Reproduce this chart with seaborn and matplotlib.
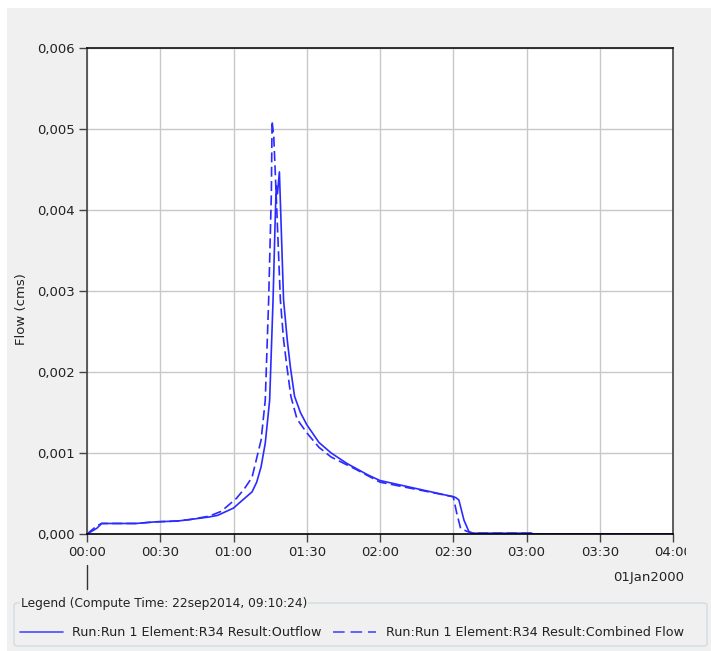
import matplotlib
matplotlib.use("Agg")
import matplotlib.pyplot as plt
import seaborn as sns
import pandas as pd
from matplotlib.patches import FancyBboxPatch, Rectangle
from matplotlib.lines import Line2D
from matplotlib.transforms import Bbox

# ---- data (minutes after 00:00, flow in cms) ----
outflow_t = [0, 4, 6, 20, 28, 37, 42.5, 50, 53.5, 60, 63, 67.6, 69.5, 71.3, 73.0, 74.8, 76.2,
             77.0, 77.5, 78.0, 78.8, 80.5, 82.0, 83.3, 85.0, 87.4, 90, 95, 100, 106.5, 115,
             120, 135, 150, 151, 152.3, 154.4, 156.4, 158, 182, 183, 240]
outflow_q = [0, 0.00007, 0.00013, 0.00013, 0.00015, 0.00016, 0.00018, 0.00021, 0.00023, 0.00032,
             0.0004, 0.00052, 0.00064, 0.00083, 0.00112, 0.00165, 0.00289, 0.0038, 0.0043,
             0.0042, 0.00447, 0.00289, 0.0024, 0.00206, 0.0017, 0.0015, 0.00135, 0.00113,
             0.001, 0.00087, 0.00073, 0.00066, 0.00056, 0.00046, 0.00045, 0.00042, 0.00017,
             0.00003, 0.00001, 0.00001, 0, 0]

combined_t = [0, 4, 6, 20, 28, 37, 42.5, 50, 55, 61.2, 64.5, 67.6, 71.3, 73.0, 74.4, 75.5, 75.8,
              76.5, 77.6, 79.2, 80.5, 81.9, 83.5, 86.0, 90, 95, 100, 110, 120, 135, 150, 150.3,
              151.4, 153, 155.8, 158, 182, 183, 240]
combined_q = [0, 0.0001, 0.00013, 0.00013, 0.00015, 0.00016, 0.00018, 0.00022, 0.00028, 0.00044,
              0.00056, 0.0007, 0.00116, 0.00165, 0.00289, 0.0042, 0.0051, 0.0049, 0.0041,
              0.00289, 0.0024, 0.00206, 0.0017, 0.00142, 0.00125, 0.00107, 0.00095, 0.0008,
              0.00064, 0.00055, 0.00046, 0.00042, 0.00026, 0.00007, 0.00003, 0.00001, 0.00001,
              0, 0]

x_ticks = [0, 30, 60, 90, 120, 150, 180, 210, 240]
x_labels = ["00:00", "00:30", "01:00", "01:30", "02:00", "02:30", "03:00", "03:30", "04:00"]
y_ticks = [0, 0.001, 0.002, 0.003, 0.004, 0.005, 0.006]
y_labels = ["0,000", "0,001", "0,002", "0,003", "0,004", "0,005", "0,006"]

series_names = ["Run:Run 1 Element:R34 Result:Outflow",
                "Run:Run 1 Element:R34 Result:Combined Flow"]

df_out = pd.DataFrame({"t": outflow_t, "q": outflow_q})
df_comb = pd.DataFrame({"t": combined_t, "q": combined_q})

sns.set_theme(style="white")
plt.rcParams["font.family"] = ["DejaVu Sans"]

W, H = 711, 651
fig = plt.figure(figsize=(W / 100, H / 100), dpi=100)
fig.patch.set_facecolor("white")
fig.patches.append(Rectangle((7 / W, 0), 1, 1 - 8 / H, transform=fig.transFigure,
                             facecolor="#f0f0f0", edgecolor="none", zorder=-10))

ax = fig.add_axes([87 / W, 1 - 534 / H, (673 - 87) / W, (534 - 48) / H])
ax.set_facecolor("white")

blue = "#2b2bff"
dash = (0, (6, 2.6))
sns.lineplot(data=df_out, x="t", y="q", ax=ax, color=blue, linewidth=1.2,
             estimator=None, sort=False)
sns.lineplot(data=df_comb, x="t", y="q", ax=ax, color=blue, linewidth=1.2,
             linestyle=dash, estimator=None, sort=False)

ax.set_xlim(0, 240)
ax.set_ylim(0, 0.006)
ax.set_xticks(x_ticks)
ax.set_xticklabels(x_labels)
ax.set_yticks(y_ticks)
ax.set_yticklabels(y_labels)
ax.grid(True, color="#c8c8c8", linewidth=1)
ax.set_axisbelow(True)
for s in ax.spines.values():
    s.set_color("#444444")
    s.set_linewidth(1.2)
ax.spines["bottom"].set_color("#000000")
ax.spines["top"].set_color("#111111")
ax.tick_params(axis="both", direction="out", length=6, width=1, color="#444444",
               labelsize=9.5, labelcolor="#222222", pad=3, bottom=True, left=True)
ax.set_xlabel("")
ax.set_ylabel("")
fig.text(22 / W, 1 - 309 / H, "Flow (cms)", rotation=90, ha="center", va="center",
         fontsize=9.5, color="#222222")

# clip last x tick label like the reference
fig.canvas.draw()
clipbox = Bbox([[0, 0], [686, H]])
for lab in ax.get_xticklabels():
    lab.set_clip_on(True)
    lab.set_clip_box(clipbox)

# date label and marker
fig.text(684 / W, 1 - 577 / H, "01Jan2000", ha="right", va="center", fontsize=9.5, color="#222222")
fig.add_artist(Line2D([87 / W, 87 / W], [1 - 565 / H, 1 - 589 / H], color="#333333", linewidth=1))

# legend box
fig.patches.append(FancyBboxPatch((14 / W, 1 - 646 / H), (707 - 14) / W, (646 - 603) / H,
                                  boxstyle="round,pad=0,rounding_size=0.004",
                                  transform=fig.transFigure, facecolor="#f0f0f0",
                                  edgecolor="#d0dce0", linewidth=1))
fig.text(21 / W, 1 - 603 / H, "Legend (Compute Time: 22sep2014, 09:10:24)", ha="left", va="center",
         fontsize=8.8, color="#222222",
         bbox=dict(facecolor="#f0f0f0", edgecolor="none", pad=0.5))
ly = 1 - 632 / H
fig.add_artist(Line2D([20 / W, 63 / W], [ly, ly], color="#4a4aff", linewidth=1.2))
fig.text(72 / W, ly, series_names[0], ha="left", va="center", fontsize=9.2, color="#222222")
fig.add_artist(Line2D([333 / W, 376 / W], [ly, ly], color="#4a4aff", linewidth=1.2,
                      linestyle=(0, (7, 3.5))))
fig.text(386 / W, ly, series_names[1], ha="left", va="center", fontsize=9.2, color="#222222")

fig.savefig("out.png", dpi=100)
